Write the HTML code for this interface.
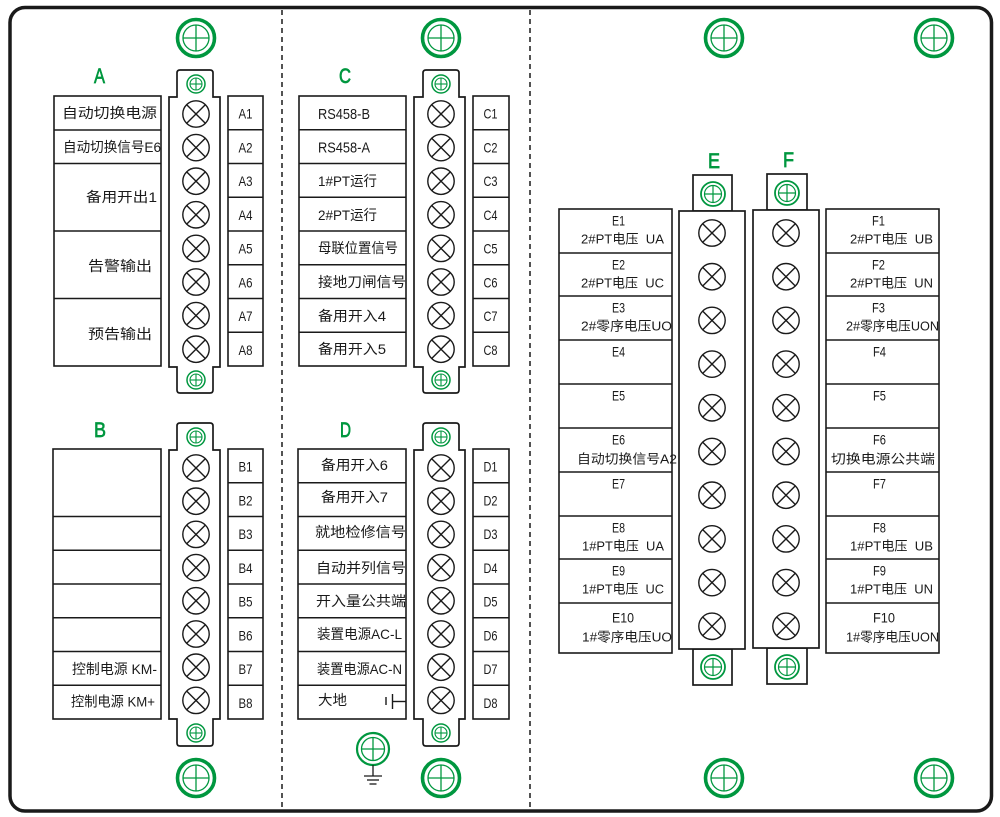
<!DOCTYPE html>
<html><head><meta charset="utf-8"><style>
html,body{margin:0;padding:0;background:#fff;}
svg{display:block;}
text{font-family:"Liberation Sans","Noto Sans CJK SC",sans-serif;fill:#1a1a1a;white-space:pre;}
.g{fill:#00973f;font-size:21px;stroke:#00973f;stroke-width:0.7;}
.n{font-size:14px;}
.l{font-size:14px;}
.e{font-size:13px;}
</style></head><body>
<svg width="1000" height="817" viewBox="0 0 1000 817" xmlns="http://www.w3.org/2000/svg">
<defs>
  <g id="big" fill="none" stroke="#00973f">
    <circle r="18.5" stroke-width="3.6"/>
    <circle r="13" stroke-width="1.3"/>
    <line x1="-13" y1="0" x2="13" y2="0" stroke-width="1.3"/>
    <line x1="0" y1="-13" x2="0" y2="13" stroke-width="1.3"/>
  </g>
  <g id="sm" fill="none" stroke="#00973f">
    <circle r="9" stroke-width="1.5"/>
    <circle r="6" stroke-width="1.1"/>
    <line x1="-6" y1="0" x2="6" y2="0" stroke-width="1.1"/>
    <line x1="0" y1="-6" x2="0" y2="6" stroke-width="1.1"/>
  </g>
  <g id="md" fill="none" stroke="#00973f">
    <circle r="12" stroke-width="1.8"/>
    <circle r="8.5" stroke-width="1.2"/>
    <line x1="-8.5" y1="0" x2="8.5" y2="0" stroke-width="1.2"/>
    <line x1="0" y1="-8.5" x2="0" y2="8.5" stroke-width="1.2"/>
  </g>
  <g id="x" fill="none" stroke="#1a1a1a" stroke-width="1.4">
    <circle r="13.2"/>
    <line x1="-9.3" y1="-9.3" x2="9.3" y2="9.3"/>
    <line x1="-9.3" y1="9.3" x2="9.3" y2="-9.3"/>
  </g>
</defs>

<!-- outer border -->
<rect x="10" y="7.5" width="981.5" height="803.5" rx="15" ry="15" fill="none" stroke="#1a1a1a" stroke-width="3.5"/>
<!-- dashed separators -->
<line x1="282" y1="10" x2="282" y2="808" stroke="#1a1a1a" stroke-width="1.5" stroke-dasharray="5,4"/>
<line x1="530" y1="10" x2="530" y2="808" stroke="#1a1a1a" stroke-width="1.5" stroke-dasharray="5,4"/>

<!-- big screws -->
<use href="#big" x="196" y="38"/><use href="#big" x="441" y="38"/>
<use href="#big" x="724" y="38"/><use href="#big" x="934" y="38"/>
<use href="#big" x="196" y="778"/><use href="#big" x="441" y="778"/>
<use href="#big" x="724" y="778"/><use href="#big" x="934" y="778"/>

<!-- ground screw -->
<g fill="none" stroke="#00973f">
  <circle cx="373" cy="749" r="16" stroke-width="2.2"/>
  <circle cx="373" cy="749" r="11.5" stroke-width="1.3"/>
  <line x1="361.5" y1="749" x2="384.5" y2="749" stroke-width="1.3"/>
  <line x1="373" y1="737.5" x2="373" y2="760.5" stroke-width="1.3"/>
</g>
<g stroke="#1a1a1a" stroke-width="1.3">
  <line x1="373" y1="765" x2="373" y2="776"/>
  <line x1="364" y1="776" x2="382" y2="776"/>
  <line x1="367" y1="780" x2="379" y2="780"/>
  <line x1="369.5" y1="784" x2="376.5" y2="784"/>
</g>

<!-- group letters -->
<text class="g" x="94" y="83" textLength="11" lengthAdjust="spacingAndGlyphs">A</text>
<text class="g" x="94" y="437" textLength="12" lengthAdjust="spacingAndGlyphs">B</text>
<text class="g" x="339" y="83" textLength="12" lengthAdjust="spacingAndGlyphs">C</text>
<text class="g" x="340" y="437" textLength="11" lengthAdjust="spacingAndGlyphs">D</text>
<text class="g" x="708" y="168" textLength="12" lengthAdjust="spacingAndGlyphs">E</text>
<text class="g" x="783" y="167" textLength="11" lengthAdjust="spacingAndGlyphs">F</text>

<!-- strips A-D -->
<g fill="#fff" stroke="#1a1a1a" stroke-width="1.7">
<path d="M169,97 L177,97 L177,73 Q177,70 180,70 L210,70 Q213,70 213,73 L213,97 L220,97 L220,367 L213,367 L213,390 Q213,393 210,393 L180,393 Q177,393 177,390 L177,367 L169,367 Z"/>
<path d="M169,450 L177,450 L177,426 Q177,423 180,423 L210,423 Q213,423 213,426 L213,450 L220,450 L220,719 L213,719 L213,743 Q213,746 210,746 L180,746 Q177,746 177,743 L177,719 L169,719 Z"/>
<path d="M414,97 L423,97 L423,73 Q423,70 426,70 L456,70 Q459,70 459,73 L459,97 L465,97 L465,367 L459,367 L459,390 Q459,393 456,393 L426,393 Q423,393 423,390 L423,367 L414,367 Z"/>
<path d="M414,450 L423,450 L423,426 Q423,423 426,423 L456,423 Q459,423 459,426 L459,450 L465,450 L465,719 L459,719 L459,743 Q459,746 456,746 L426,746 Q423,746 423,743 L423,719 L414,719 Z"/>
<!-- E/F strips -->
<rect x="693" y="175" width="39" height="36"/>
<rect x="693" y="649" width="39" height="36"/>
<rect x="679" y="211" width="66" height="438"/>
<rect x="767" y="174" width="40" height="36"/>
<rect x="767" y="648" width="40" height="36"/>
<rect x="753" y="210" width="66" height="438"/>
</g>

<!-- tab screws -->
<use href="#sm" x="196" y="84"/><use href="#sm" x="196" y="380"/>
<use href="#sm" x="196" y="437"/><use href="#sm" x="196" y="733"/>
<use href="#sm" x="441" y="84"/><use href="#sm" x="441" y="380"/>
<use href="#sm" x="441" y="437"/><use href="#sm" x="441" y="733"/>
<use href="#md" x="713" y="194"/><use href="#md" x="713" y="667"/>
<use href="#md" x="787" y="193"/><use href="#md" x="787" y="667"/>

<!-- terminal circles A -->
<use href="#x" x="196" y="114"/><use href="#x" x="196" y="147.6"/><use href="#x" x="196" y="181.2"/><use href="#x" x="196" y="214.8"/>
<use href="#x" x="196" y="248.4"/><use href="#x" x="196" y="282"/><use href="#x" x="196" y="315.6"/><use href="#x" x="196" y="349.2"/>
<!-- C -->
<use href="#x" x="441" y="114"/><use href="#x" x="441" y="147.6"/><use href="#x" x="441" y="181.2"/><use href="#x" x="441" y="214.8"/>
<use href="#x" x="441" y="248.4"/><use href="#x" x="441" y="282"/><use href="#x" x="441" y="315.6"/><use href="#x" x="441" y="349.2"/>
<!-- B -->
<use href="#x" x="196" y="468"/><use href="#x" x="196" y="501.2"/><use href="#x" x="196" y="534.4"/><use href="#x" x="196" y="567.6"/>
<use href="#x" x="196" y="600.8"/><use href="#x" x="196" y="634"/><use href="#x" x="196" y="667.2"/><use href="#x" x="196" y="700.4"/>
<!-- D -->
<use href="#x" x="441" y="468"/><use href="#x" x="441" y="501.2"/><use href="#x" x="441" y="534.4"/><use href="#x" x="441" y="567.6"/>
<use href="#x" x="441" y="600.8"/><use href="#x" x="441" y="634"/><use href="#x" x="441" y="667.2"/><use href="#x" x="441" y="700.4"/>
<!-- E -->
<use href="#x" x="712" y="233"/><use href="#x" x="712" y="276.7"/><use href="#x" x="712" y="320.4"/><use href="#x" x="712" y="364.1"/><use href="#x" x="712" y="407.8"/>
<use href="#x" x="712" y="451.5"/><use href="#x" x="712" y="495.2"/><use href="#x" x="712" y="538.9"/><use href="#x" x="712" y="582.6"/><use href="#x" x="712" y="626.3"/>
<!-- F -->
<use href="#x" x="786" y="233"/><use href="#x" x="786" y="276.7"/><use href="#x" x="786" y="320.4"/><use href="#x" x="786" y="364.1"/><use href="#x" x="786" y="407.8"/>
<use href="#x" x="786" y="451.5"/><use href="#x" x="786" y="495.2"/><use href="#x" x="786" y="538.9"/><use href="#x" x="786" y="582.6"/><use href="#x" x="786" y="626.3"/>

<!-- label boxes -->
<g fill="none" stroke="#1a1a1a" stroke-width="1.6">
  <rect x="54" y="96" width="107" height="270"/>
  <line x1="54" y1="130" x2="161" y2="130"/><line x1="54" y1="163.5" x2="161" y2="163.5"/>
  <line x1="54" y1="231" x2="161" y2="231"/><line x1="54" y1="298.5" x2="161" y2="298.5"/>
  <rect x="228" y="96" width="35" height="270"/>
  <line x1="228" y1="129.75" x2="263" y2="129.75"/><line x1="228" y1="163.5" x2="263" y2="163.5"/>
  <line x1="228" y1="197.25" x2="263" y2="197.25"/><line x1="228" y1="231" x2="263" y2="231"/>
  <line x1="228" y1="264.75" x2="263" y2="264.75"/><line x1="228" y1="298.5" x2="263" y2="298.5"/>
  <line x1="228" y1="332.25" x2="263" y2="332.25"/>
  <rect x="53" y="449" width="108" height="270"/>
  <line x1="53" y1="516.5" x2="161" y2="516.5"/><line x1="53" y1="550.25" x2="161" y2="550.25"/>
  <line x1="53" y1="584" x2="161" y2="584"/><line x1="53" y1="617.75" x2="161" y2="617.75"/>
  <line x1="53" y1="651.5" x2="161" y2="651.5"/><line x1="53" y1="685.25" x2="161" y2="685.25"/>
  <rect x="228" y="449" width="35" height="270"/>
  <line x1="228" y1="482.75" x2="263" y2="482.75"/><line x1="228" y1="516.5" x2="263" y2="516.5"/>
  <line x1="228" y1="550.25" x2="263" y2="550.25"/><line x1="228" y1="584" x2="263" y2="584"/>
  <line x1="228" y1="617.75" x2="263" y2="617.75"/><line x1="228" y1="651.5" x2="263" y2="651.5"/>
  <line x1="228" y1="685.25" x2="263" y2="685.25"/>
  <rect x="299" y="96" width="107" height="270"/>
  <line x1="299" y1="129.75" x2="406" y2="129.75"/><line x1="299" y1="163.5" x2="406" y2="163.5"/>
  <line x1="299" y1="197.25" x2="406" y2="197.25"/><line x1="299" y1="231" x2="406" y2="231"/>
  <line x1="299" y1="264.75" x2="406" y2="264.75"/><line x1="299" y1="298.5" x2="406" y2="298.5"/>
  <line x1="299" y1="332.25" x2="406" y2="332.25"/>
  <rect x="473" y="96" width="36" height="270"/>
  <line x1="473" y1="129.75" x2="509" y2="129.75"/><line x1="473" y1="163.5" x2="509" y2="163.5"/>
  <line x1="473" y1="197.25" x2="509" y2="197.25"/><line x1="473" y1="231" x2="509" y2="231"/>
  <line x1="473" y1="264.75" x2="509" y2="264.75"/><line x1="473" y1="298.5" x2="509" y2="298.5"/>
  <line x1="473" y1="332.25" x2="509" y2="332.25"/>
  <rect x="298" y="449" width="108" height="270"/>
  <line x1="298" y1="482.75" x2="406" y2="482.75"/><line x1="298" y1="516.5" x2="406" y2="516.5"/>
  <line x1="298" y1="550.25" x2="406" y2="550.25"/><line x1="298" y1="584" x2="406" y2="584"/>
  <line x1="298" y1="617.75" x2="406" y2="617.75"/><line x1="298" y1="651.5" x2="406" y2="651.5"/>
  <line x1="298" y1="685.25" x2="406" y2="685.25"/>
  <rect x="473" y="449" width="36" height="270"/>
  <line x1="473" y1="482.75" x2="509" y2="482.75"/><line x1="473" y1="516.5" x2="509" y2="516.5"/>
  <line x1="473" y1="550.25" x2="509" y2="550.25"/><line x1="473" y1="584" x2="509" y2="584"/>
  <line x1="473" y1="617.75" x2="509" y2="617.75"/><line x1="473" y1="651.5" x2="509" y2="651.5"/>
  <line x1="473" y1="685.25" x2="509" y2="685.25"/>
  <rect x="559" y="209" width="113" height="444"/>
  <line x1="559" y1="253" x2="672" y2="253"/><line x1="559" y1="296" x2="672" y2="296"/>
  <line x1="559" y1="340" x2="672" y2="340"/><line x1="559" y1="384" x2="672" y2="384"/>
  <line x1="559" y1="428" x2="672" y2="428"/><line x1="559" y1="472" x2="672" y2="472"/>
  <line x1="559" y1="516" x2="672" y2="516"/><line x1="559" y1="559" x2="672" y2="559"/>
  <line x1="559" y1="603" x2="672" y2="603"/>
  <rect x="826" y="209" width="113" height="444"/>
  <line x1="826" y1="253" x2="939" y2="253"/><line x1="826" y1="296" x2="939" y2="296"/>
  <line x1="826" y1="340" x2="939" y2="340"/><line x1="826" y1="384" x2="939" y2="384"/>
  <line x1="826" y1="428" x2="939" y2="428"/><line x1="826" y1="472" x2="939" y2="472"/>
  <line x1="826" y1="516" x2="939" y2="516"/><line x1="826" y1="559" x2="939" y2="559"/>
  <line x1="826" y1="603" x2="939" y2="603"/>
</g>

<!-- earth symbol in D8 -->
<g stroke="#1a1a1a" stroke-width="1.4">
  <line x1="386" y1="697" x2="386" y2="705"/>
  <line x1="392.5" y1="694" x2="392.5" y2="709"/>
  <line x1="392.5" y1="701.5" x2="406" y2="701.5"/>
</g>

<!-- A labels -->
<text class="l" x="62" y="118" textLength="95" lengthAdjust="spacingAndGlyphs">自动切换电源</text>
<text class="l" x="63" y="152" textLength="98" lengthAdjust="spacingAndGlyphs">自动切换信号E6</text>
<text class="l" x="86" y="202" textLength="71" lengthAdjust="spacingAndGlyphs">备用开出1</text>
<text class="l" x="88" y="271" textLength="64" lengthAdjust="spacingAndGlyphs">告警输出</text>
<text class="l" x="88" y="339" textLength="64" lengthAdjust="spacingAndGlyphs">预告输出</text>
<!-- numbers -->
<g class="n" text-anchor="middle">
<text x="245.5" y="118.6" textLength="14" lengthAdjust="spacingAndGlyphs">A1</text><text x="245.5" y="152.3" textLength="14" lengthAdjust="spacingAndGlyphs">A2</text><text x="245.5" y="186.1" textLength="14" lengthAdjust="spacingAndGlyphs">A3</text><text x="245.5" y="219.8" textLength="14" lengthAdjust="spacingAndGlyphs">A4</text>
<text x="245.5" y="253.6" textLength="14" lengthAdjust="spacingAndGlyphs">A5</text><text x="245.5" y="287.3" textLength="14" lengthAdjust="spacingAndGlyphs">A6</text><text x="245.5" y="321.1" textLength="14" lengthAdjust="spacingAndGlyphs">A7</text><text x="245.5" y="354.8" textLength="14" lengthAdjust="spacingAndGlyphs">A8</text>
<text x="245.5" y="471.6" textLength="14" lengthAdjust="spacingAndGlyphs">B1</text><text x="245.5" y="505.3" textLength="14" lengthAdjust="spacingAndGlyphs">B2</text><text x="245.5" y="539.1" textLength="14" lengthAdjust="spacingAndGlyphs">B3</text><text x="245.5" y="572.8" textLength="14" lengthAdjust="spacingAndGlyphs">B4</text>
<text x="245.5" y="606.6" textLength="14" lengthAdjust="spacingAndGlyphs">B5</text><text x="245.5" y="640.3" textLength="14" lengthAdjust="spacingAndGlyphs">B6</text><text x="245.5" y="674.1" textLength="14" lengthAdjust="spacingAndGlyphs">B7</text><text x="245.5" y="707.8" textLength="14" lengthAdjust="spacingAndGlyphs">B8</text>
<text x="490.5" y="118.6" textLength="14" lengthAdjust="spacingAndGlyphs">C1</text><text x="490.5" y="152.3" textLength="14" lengthAdjust="spacingAndGlyphs">C2</text><text x="490.5" y="186.1" textLength="14" lengthAdjust="spacingAndGlyphs">C3</text><text x="490.5" y="219.8" textLength="14" lengthAdjust="spacingAndGlyphs">C4</text>
<text x="490.5" y="253.6" textLength="14" lengthAdjust="spacingAndGlyphs">C5</text><text x="490.5" y="287.3" textLength="14" lengthAdjust="spacingAndGlyphs">C6</text><text x="490.5" y="321.1" textLength="14" lengthAdjust="spacingAndGlyphs">C7</text><text x="490.5" y="354.8" textLength="14" lengthAdjust="spacingAndGlyphs">C8</text>
<text x="490.5" y="471.6" textLength="14" lengthAdjust="spacingAndGlyphs">D1</text><text x="490.5" y="505.3" textLength="14" lengthAdjust="spacingAndGlyphs">D2</text><text x="490.5" y="539.1" textLength="14" lengthAdjust="spacingAndGlyphs">D3</text><text x="490.5" y="572.8" textLength="14" lengthAdjust="spacingAndGlyphs">D4</text>
<text x="490.5" y="606.6" textLength="14" lengthAdjust="spacingAndGlyphs">D5</text><text x="490.5" y="640.3" textLength="14" lengthAdjust="spacingAndGlyphs">D6</text><text x="490.5" y="674.1" textLength="14" lengthAdjust="spacingAndGlyphs">D7</text><text x="490.5" y="707.8" textLength="14" lengthAdjust="spacingAndGlyphs">D8</text>
</g>

<!-- B labels -->
<text class="l" x="72" y="674" textLength="85" lengthAdjust="spacingAndGlyphs">控制电源 KM-</text>
<text class="l" x="71" y="706.5" textLength="84" lengthAdjust="spacingAndGlyphs">控制电源 KM+</text>

<!-- C labels -->
<text class="l" x="318" y="119" textLength="52" lengthAdjust="spacingAndGlyphs" style="font-size:15px">RS458-B</text>
<text class="l" x="318" y="152.5" textLength="52" lengthAdjust="spacingAndGlyphs" style="font-size:15px">RS458-A</text>
<text class="l" x="318" y="186" textLength="59" lengthAdjust="spacingAndGlyphs">1#PT运行</text>
<text class="l" x="318" y="220" textLength="59" lengthAdjust="spacingAndGlyphs">2#PT运行</text>
<text class="l" x="318" y="253" textLength="80" lengthAdjust="spacingAndGlyphs">母联位置信号</text>
<text class="l" x="318" y="287" textLength="88" lengthAdjust="spacingAndGlyphs">接地刀闸信号</text>
<text class="l" x="318" y="321" textLength="68" lengthAdjust="spacingAndGlyphs">备用开入4</text>
<text class="l" x="318" y="354" textLength="68" lengthAdjust="spacingAndGlyphs">备用开入5</text>

<!-- D labels -->
<text class="l" x="321" y="470" textLength="67" lengthAdjust="spacingAndGlyphs">备用开入6</text>
<text class="l" x="321" y="502" textLength="67" lengthAdjust="spacingAndGlyphs">备用开入7</text>
<text class="l" x="315" y="537" textLength="91" lengthAdjust="spacingAndGlyphs">就地检修信号</text>
<text class="l" x="316" y="573" textLength="90" lengthAdjust="spacingAndGlyphs">自动并列信号</text>
<text class="l" x="316" y="606" textLength="90" lengthAdjust="spacingAndGlyphs">开入量公共端</text>
<text class="l" x="317" y="639" textLength="85" lengthAdjust="spacingAndGlyphs">装置电源AC-L</text>
<text class="l" x="317" y="674" textLength="85" lengthAdjust="spacingAndGlyphs">装置电源AC-N</text>
<text class="l" x="318" y="705" textLength="29" lengthAdjust="spacingAndGlyphs">大地</text>

<!-- E labels -->
<g class="e">
<text x="612" y="225.6" style="font-size:14px" textLength="13" lengthAdjust="spacingAndGlyphs">E1</text>
<text x="581" y="243.6" textLength="83" lengthAdjust="spacingAndGlyphs">2#PT电压  UA</text>
<text x="612" y="269.6" style="font-size:14px" textLength="13" lengthAdjust="spacingAndGlyphs">E2</text>
<text x="581" y="287.6" textLength="83" lengthAdjust="spacingAndGlyphs">2#PT电压  UC</text>
<text x="612" y="312.6" style="font-size:14px" textLength="13" lengthAdjust="spacingAndGlyphs">E3</text>
<text x="581" y="330.6" textLength="91" lengthAdjust="spacingAndGlyphs">2#零序电压UO</text>
<text x="612" y="356.6" style="font-size:14px" textLength="13" lengthAdjust="spacingAndGlyphs">E4</text>
<text x="612" y="400.6" style="font-size:14px" textLength="13" lengthAdjust="spacingAndGlyphs">E5</text>
<text x="612" y="444.6" style="font-size:14px" textLength="13" lengthAdjust="spacingAndGlyphs">E6</text>
<text x="577" y="463.6" textLength="100" lengthAdjust="spacingAndGlyphs">自动切换信号A2</text>
<text x="612" y="488.6" style="font-size:14px" textLength="13" lengthAdjust="spacingAndGlyphs">E7</text>
<text x="612" y="532.6" style="font-size:14px" textLength="13" lengthAdjust="spacingAndGlyphs">E8</text>
<text x="582" y="550.6" textLength="82" lengthAdjust="spacingAndGlyphs">1#PT电压  UA</text>
<text x="612" y="575.6" style="font-size:14px" textLength="13" lengthAdjust="spacingAndGlyphs">E9</text>
<text x="582" y="593.6" textLength="82" lengthAdjust="spacingAndGlyphs">1#PT电压  UC</text>
<text x="612" y="622.6" style="font-size:14px" textLength="22" lengthAdjust="spacingAndGlyphs">E10</text>
<text x="582" y="641.6" textLength="90" lengthAdjust="spacingAndGlyphs">1#零序电压UO</text>

<text x="872" y="225.6" style="font-size:14px" textLength="13" lengthAdjust="spacingAndGlyphs">F1</text>
<text x="850" y="243.6" textLength="83" lengthAdjust="spacingAndGlyphs">2#PT电压  UB</text>
<text x="872" y="269.6" style="font-size:14px" textLength="13" lengthAdjust="spacingAndGlyphs">F2</text>
<text x="850" y="287.6" textLength="83" lengthAdjust="spacingAndGlyphs">2#PT电压  UN</text>
<text x="872" y="312.6" style="font-size:14px" textLength="13" lengthAdjust="spacingAndGlyphs">F3</text>
<text x="846" y="330.6" textLength="93" lengthAdjust="spacingAndGlyphs">2#零序电压UON</text>
<text x="873" y="356.6" style="font-size:14px" textLength="13" lengthAdjust="spacingAndGlyphs">F4</text>
<text x="873" y="400.6" style="font-size:14px" textLength="13" lengthAdjust="spacingAndGlyphs">F5</text>
<text x="873" y="444.6" style="font-size:14px" textLength="13" lengthAdjust="spacingAndGlyphs">F6</text>
<text x="831" y="463.6" textLength="104" lengthAdjust="spacingAndGlyphs">切换电源公共端</text>
<text x="873" y="488.6" style="font-size:14px" textLength="13" lengthAdjust="spacingAndGlyphs">F7</text>
<text x="873" y="532.6" style="font-size:14px" textLength="13" lengthAdjust="spacingAndGlyphs">F8</text>
<text x="850" y="550.6" textLength="83" lengthAdjust="spacingAndGlyphs">1#PT电压  UB</text>
<text x="873" y="575.6" style="font-size:14px" textLength="13" lengthAdjust="spacingAndGlyphs">F9</text>
<text x="850" y="593.6" textLength="83" lengthAdjust="spacingAndGlyphs">1#PT电压  UN</text>
<text x="873" y="622.6" style="font-size:14px" textLength="22" lengthAdjust="spacingAndGlyphs">F10</text>
<text x="846" y="641.6" textLength="93" lengthAdjust="spacingAndGlyphs">1#零序电压UON</text>
</g>
</svg>
</body></html>
